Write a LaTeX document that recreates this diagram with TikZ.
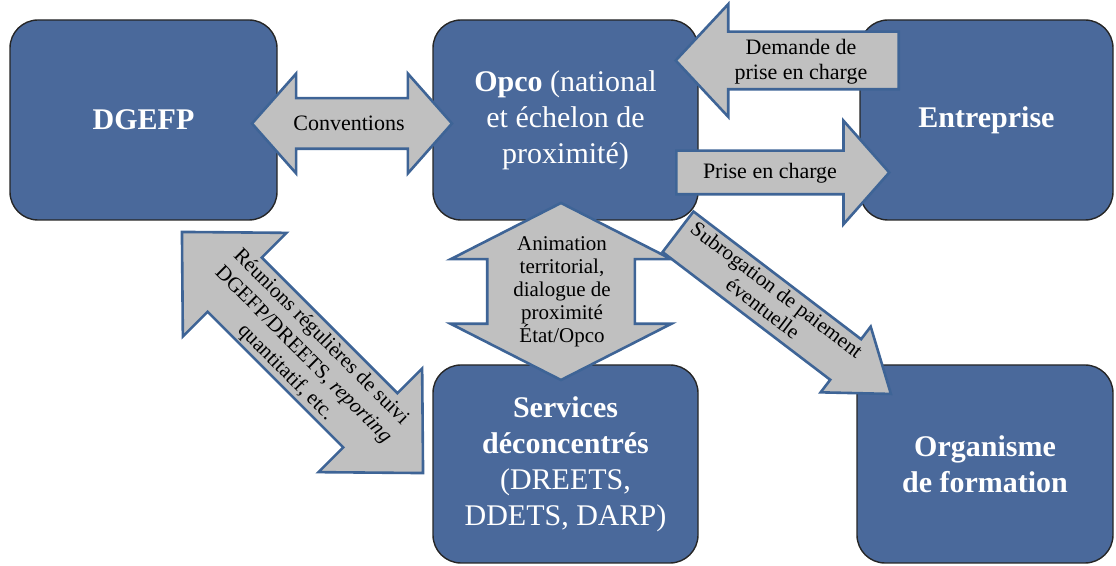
\documentclass[tikz,border=0pt]{standalone}
\usepackage{fontspec}
\setmainfont{Liberation Serif}
\usepackage{tikz}
\usetikzlibrary{
    shapes.arrows,
    calc,
    positioning
}
\definecolor{boxblue}{RGB}{74,105,155}
\definecolor{arrowedge}{RGB}{62,100,150}
\definecolor{arrowgray}{RGB}{192,192,192}

\begin{document}
\begin{tikzpicture}[x=0.5pt, y=-0.5pt,
    box/.style={draw=black!85, line width=0.7pt, fill=boxblue, rounded corners=14pt,
        text=white, align=center, font=\fontsize{15}{18}\selectfont},
    blockarrow/.style={draw=arrowedge, line width=1.3pt, fill=arrowgray, inner xsep=0pt},
    arrowtext/.style={inner sep=0pt, align=center, font=\fontsize{11}{12.5}\selectfont}]
    \useasboundingbox (0, 0) rectangle (1116, 566);
    \node[box, minimum width=133.5pt, minimum height=100pt] (dgefp) at (143.5, 120) {\textbf{DGEFP}};
    \node[box, minimum width=132.5pt, minimum height=100pt] (opco) at (565.5, 120)
        {\textbf{Opco} (national\\et échelon de\\proximité)};
    \node[box, minimum width=126.5pt, minimum height=100pt] (ent) at (986.5, 120) {\textbf{Entreprise}};
    \node[box, minimum width=132.5pt, minimum height=99pt] (serv) at (565.5, 464)
        {\textbf{Services}\\\textbf{déconcentrés}\\(DREETS,\\DDETS, DARP)};
    \node[box, minimum width=128pt, minimum height=99pt] (of) at (985, 464)
        {\textbf{Organisme}\\\textbf{de formation}};

    \node[blockarrow, double arrow, inner ysep=12pt, minimum height=100pt,
        double arrow head extend=12.25pt, double arrow tip angle=97] (conv)
        at (352, 123.5) {};
    \node[arrowtext] (convtxt) at (349, 123) {Conventions};
    \node[blockarrow, single arrow, shape border rotate=180, anchor=tail,
        inner ysep=13.75pt, minimum height=111.5pt,
        single arrow head extend=13.75pt, single arrow tip angle=94] (dem)
        at (900, 60.5) {};
    \node[arrowtext] (demtxt) at (801, 62) {Demande de\\prise en charge};
    \node[blockarrow, single arrow, anchor=tail,
        inner ysep=10.25pt, minimum height=106.5pt,
        single arrow head extend=15pt, single arrow tip angle=97] (pec)
        at (675, 172.5) {};
    \node[arrowtext] (pectxt) at (770, 173) {Prise en charge};
    \node[blockarrow, double arrow, shape border rotate=90,
        inner xsep=36.25pt, inner ysep=0pt, minimum height=88.5pt,
        double arrow head extend=18.25pt, double arrow tip angle=126] (anim)
        at (561, 291.5) {};
    \node[arrowtext, font=\fontsize{10.5}{11.5}\selectfont] (animtxt) at (562, 292)
        {Animation\\territorial,\\dialogue de\\proximité\\État/Opco};
    \node[blockarrow, double arrow, rotate=-45,
        inner ysep=18.5pt, minimum height=170.5pt,
        double arrow head extend=17.5pt, double arrow tip angle=89] (reun)
        at (302.5, 352.5) {};
    \node[arrowtext, rotate=-45, font=\fontsize{10.5}{12.5}\selectfont] (reuntxt) at (303, 355)
        {Réunions régulières de suivi\\DGEFP/DREETS, \textit{reporting}\\quantitatif, etc.};
    \node[blockarrow, single arrow, rotate=-37.3, anchor=tail,
        inner ysep=12.1pt, minimum height=133.8pt,
        single arrow head extend=7.9pt, single arrow tip angle=72] (sub)
        at (677, 231) {};
    \node[arrowtext, rotate=-37.3, font=\fontsize{10.5}{11.5}\selectfont] (subtxt) at (770, 299)
        {Subrogation de paiement\\éventuelle};
\end{tikzpicture}
\end{document}
